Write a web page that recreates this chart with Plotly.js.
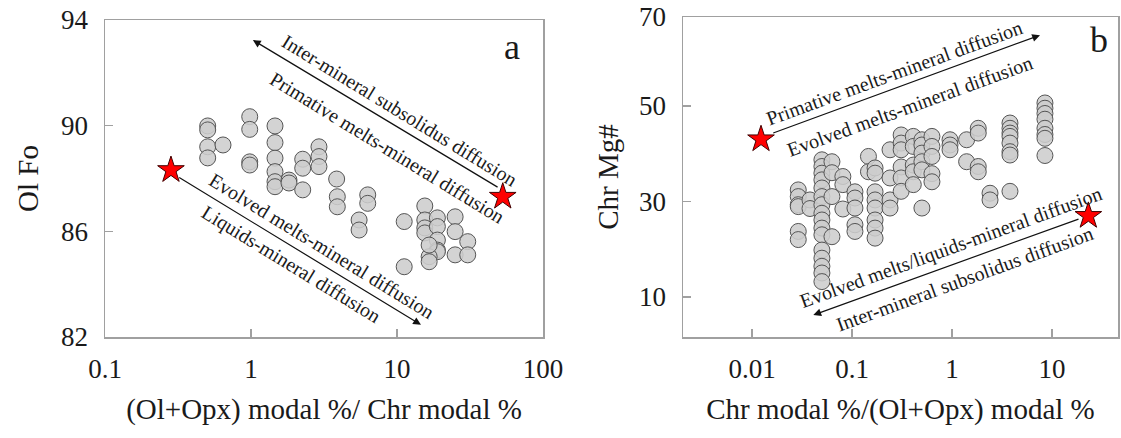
<!DOCTYPE html>
<html><head><meta charset="utf-8">
<script src="https://cdn.plot.ly/plotly-3.0.1.min.js"></script>
<style>html,body{margin:0;padding:0;background:#fff}#chart{width:1121px;height:438px}</style>
</head><body><div id="chart"></div>
<script>
// ---- Panel a data: (Ol+Opx)/Chr modal ratio vs Ol Fo ----
const aRatio = [0.505,0.505,0.505,0.505, 0.643, 0.98,0.98,0.98,0.98,
  1.46,1.46,1.46,1.46,1.46,1.46, 1.82,1.82, 2.26,2.26,2.26, 2.92,2.92,2.92,
  3.86,3.9,3.9, 6.3,6.3, 5.5,5.5, 11.2,11.2,
  15.5,15.5,15.5,15.5, 18.9,18.9,18.9,18.9,18.9, 16.6,16.6,16.6,
  25,25,25, 30.5,30.5];
const aFo = [89.99,89.84,89.20,88.78, 89.27, 90.34,89.86,88.63,88.51,
  89.99,89.36,88.77,88.26,87.88,87.69, 87.94,87.83, 88.73,88.39,87.57, 89.20,88.83,88.45,
  87.98,87.31,86.93, 87.38,87.06, 86.43,86.05, 86.37,84.66,
  86.96,86.43,86.13,85.94, 86.51,86.18,85.67,85.29,85.23, 85.04,84.85,85.48,
  86.55,85.99,85.11, 85.61,85.11];
const aStarRatio = [0.283, 53];
const aStarFo = [88.32, 87.31];

// ---- Panel b data: Chr/(Ol+Opx) modal ratio vs Chr Mg# ----
const bRatio = [0.029,0.029,0.029,0.029,0.029,0.029,
  0.038,0.038,
  0.050,0.050,0.050,0.050,0.050,0.050,0.050,0.050,0.050,0.050,0.050,0.050,0.050,0.050,0.050,0.050,
  0.063,0.063,0.063,0.063,
  0.081,0.081,0.081,
  0.107,0.107,0.107,0.107,0.107,
  0.146,0.146,
  0.17,0.17,0.17,0.17,0.17,0.17,0.17,0.17,
  0.24,0.24,0.24,0.24,
  0.31,0.31,0.31,0.31,0.31,0.31,
  0.41,0.41,0.41,0.41,0.41,
  0.50,0.50,0.50,0.50,0.50,0.50,
  0.63,0.63,0.63,0.63,0.63,
  0.955,0.955,0.955,
  1.40,1.40,
  1.83,1.83,1.83,1.83,
  2.40,2.40,
  3.80,3.80,3.80,3.80,3.80,3.80,3.80,3.80,
  8.5,8.5,8.5,8.5,8.5,8.5,8.5,8.5];
const bMg = [32.4,31.0,29.3,28.9,23.7,22.0,
  30.3,28.5,
  38.7,37.3,35.9,34.5,32.8,31.0,29.3,27.5,26.1,24.4,23.0,19.8,18.1,16.4,15.0,13.2,
  38.3,36.0,31.0,22.6,
  35.2,33.5,28.4,
  32.0,30.7,28.6,25.1,23.7,
  39.4,36.2,
  37.0,35.9,32.0,30.3,28.6,26.1,24.4,22.3,
  40.8,34.9,30.3,28.6,
  43.9,42.2,40.8,37.2,34.9,32.1,
  43.6,41.5,37.6,36.2,33.5,
  42.9,41.8,40.1,38.3,36.6,28.6,
  43.6,41.5,39.4,35.8,34.1,
  42.9,41.8,40.8,
  42.9,38.3,
  45.3,44.3,37.3,36.2,
  31.7,30.3,
  46.4,45.3,44.3,43.6,42.2,40.4,39.7,32.1,
  50.6,49.5,48.4,47.2,45.3,44.0,43.2,39.6];
const bStarRatio = [0.0123, 23.1];
const bStarMg = [43.0, 26.96];

// ---- tick labels ----
const aXTickVals = [0.1, 1, 10, 100];
const aXTickText = ['0.1', '1', '10', '100'];
const aYTickVals = [82, 86, 90, 94];
const bXTickVals = [0.01, 0.1, 1, 10];
const bXTickText = ['0.01', '0.1', '1', '10'];
const bYTickVals = [10, 30, 50, 68.6];
const bYTickText = ['10', '30', '50', '70'];

// ---- texts ----
const aLabels = ['Inter-mineral subsolidus diffusion', 'Primative melts-mineral diffusion',
  'Evolved melts-mineral diffusion', 'Liquids-mineral diffusion'];
const bLabels = ['Primative melts-mineral diffusion', 'Evolved melts-mineral diffusion',
  'Evolved melts/liquids-mineral diffusion', 'Inter-mineral subsolidus diffusion'];

const F = 'Liberation Serif, Times New Roman, serif';
const TXT = '#1a1a1a';
const LINE = '#a0a0a0';

const circle = {size: 16, color: 'rgba(205,205,205,0.88)', line: {color: '#555', width: 1}};
const star = {symbol: 'star', size: 20, color: '#ff0000', line: {color: '#400000', width: 1}};

const traces = [
  {x: aRatio, y: aFo, xaxis: 'x', yaxis: 'y', type: 'scatter', mode: 'markers', marker: circle},
  {x: aStarRatio, y: aStarFo, xaxis: 'x', yaxis: 'y', type: 'scatter', mode: 'markers', marker: star},
  {x: bRatio, y: bMg, xaxis: 'x2', yaxis: 'y2', type: 'scatter', mode: 'markers', marker: circle},
  {x: bStarRatio, y: bStarMg, xaxis: 'x2', yaxis: 'y2', type: 'scatter', mode: 'markers', marker: star}
];

const axBase = {
  showline: true, mirror: true, linecolor: LINE, linewidth: 1.5,
  ticks: 'inside', ticklen: 8, tickcolor: LINE, tickwidth: 1.5,
  showgrid: false, zeroline: false,
  tickfont: {family: F, size: 27, color: TXT}
};
const titleFont = {family: F, size: 29, color: TXT};
const labFont = {family: F, size: 20, color: TXT};

const layout = {
  width: 1121, height: 438,
  margin: {l: 105, r: 3, t: 17, b: 101},
  paper_bgcolor: '#fff', plot_bgcolor: '#fff',
  showlegend: false,
  font: {family: F, color: TXT},
  xaxis: Object.assign({}, axBase, {
    type: 'log', range: [-1, 2], domain: [0, 0.4324], anchor: 'y',
    tickvals: aXTickVals, ticktext: aXTickText, ticklabelstandoff: 7,
    title: {text: '(Ol+Opx) modal %/ Chr modal %', font: titleFont, standoff: 16}
  }),
  yaxis: Object.assign({}, axBase, {
    range: [82, 94], domain: [0, 0.9906], anchor: 'x',
    tickvals: aYTickVals, ticklabelstandoff: 10,
    title: {text: 'Ol Fo', font: titleFont, standoff: 14}
  }),
  xaxis2: Object.assign({}, axBase, {
    type: 'log', range: [-2.69, 1.66], domain: [0.5706, 1], anchor: 'y2',
    tickvals: bXTickVals, ticktext: bXTickText, ticklabelstandoff: 7,
    title: {text: 'Chr modal %/(Ol+Opx) modal %', font: titleFont, standoff: 16}
  }),
  yaxis2: Object.assign({}, axBase, {
    range: [1.6, 68.6], domain: [0, 1], anchor: 'x2',
    tickvals: bYTickVals, ticktext: bYTickText, ticklabelstandoff: 10,
    title: {text: 'Chr Mg#', font: titleFont, standoff: 12}
  }),
  annotations: [
    // arrows panel a
    {xref: 'x', yref: 'y', axref: 'x', ayref: 'y', x: 0.0128, y: 93.24, ax: 1.699, ay: 87.64,
     text: '', showarrow: true, arrowhead: 2, arrowsize: 1.3, arrowwidth: 1.2, arrowcolor: '#111'},
    {xref: 'x', yref: 'y', axref: 'x', ayref: 'y', x: 1.164, y: 82.46, ax: -0.502, ay: 88.07,
     text: '', showarrow: true, arrowhead: 2, arrowsize: 1.3, arrowwidth: 1.2, arrowcolor: '#111'},
    // arrows panel b
    {xref: 'x2', yref: 'y2', axref: 'x2', ayref: 'y2', x: 0.88, y: 64.8, ax: -1.803, ay: 44.2,
     text: '', showarrow: true, arrowhead: 2, arrowsize: 1.3, arrowwidth: 1.2, arrowcolor: '#111'},
    {xref: 'x2', yref: 'y2', axref: 'x2', ayref: 'y2', x: -1.387, y: 6.2, ax: 1.28, ay: 26.4,
     text: '', showarrow: true, arrowhead: 2, arrowsize: 1.3, arrowwidth: 1.2, arrowcolor: '#111'},
    // labels panel a
    {xref: 'x', yref: 'y', x: 1.014, y: 90.59, text: aLabels[0], textangle: 31.5, showarrow: false, font: labFont},
    {xref: 'x', yref: 'y', x: 0.938, y: 89.16, text: aLabels[1], textangle: 31.5, showarrow: false, font: labFont},
    {xref: 'x', yref: 'y', x: 0.486, y: 85.45, text: aLabels[2], textangle: 31.5, showarrow: false, font: labFont},
    {xref: 'x', yref: 'y', x: 0.274, y: 84.73, text: aLabels[3], textangle: 31.5, showarrow: false, font: labFont},
    // labels panel b
    {xref: 'x2', yref: 'y2', x: -0.58, y: 56.87, text: bLabels[0], textangle: -20, showarrow: false, font: labFont},
    {xref: 'x2', yref: 'y2', x: -0.42, y: 49.96, text: bLabels[1], textangle: -20, showarrow: false, font: labFont},
    {xref: 'x2', yref: 'y2', x: -0.01, y: 20.44, text: bLabels[2], textangle: -20, showarrow: false, font: labFont},
    {xref: 'x2', yref: 'y2', x: 0.12, y: 13.74, text: bLabels[3], textangle: -20, showarrow: false, font: labFont},
    // panel letters
    {xref: 'x domain', yref: 'y domain', x: 0.929, y: 0.915, xanchor: 'center', yanchor: 'middle',
     text: 'a', showarrow: false, font: {family: F, size: 36, color: TXT}},
    {xref: 'x2 domain', yref: 'y2 domain', x: 0.956, y: 0.928, xanchor: 'center', yanchor: 'middle',
     text: 'b', showarrow: false, font: {family: F, size: 36, color: TXT}}
  ]
};

Plotly.newPlot('chart', traces, layout, {displayModeBar: false, staticPlot: true});
</script>
</body></html>
